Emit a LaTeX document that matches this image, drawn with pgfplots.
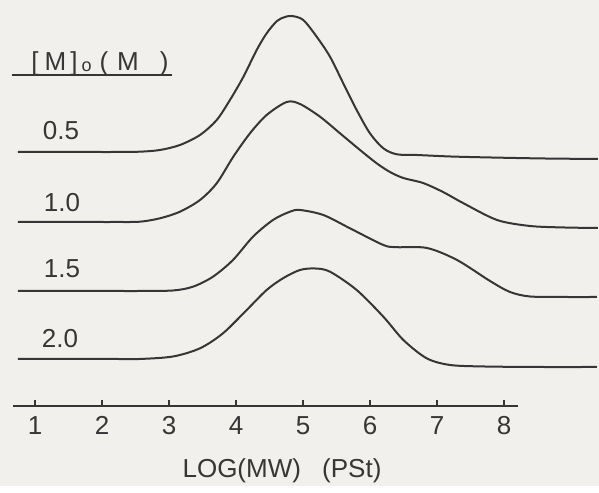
\documentclass[border=0pt]{standalone}
\usepackage{fontspec}
\setmainfont{Liberation Sans}
\usepackage{pgfplots}
\usepackage{pgfplotstable}
\pgfplotsset{compat=1.18}
\definecolor{paper}{HTML}{F1F0EC}
\definecolor{ink}{HTML}{363636}

% GPC traces, height in arbitrary units (baseline offset per curve)
\pgfplotstableread{
x     y
0.746 25.40
1.30  25.40
1.80  25.40
2.20  25.40
2.567 25.43
2.866 25.60
3.164 26.10
3.463 27.10
3.712 28.60
3.910 30.60
4.109 32.90
4.309 35.60
4.458 37.27
4.612 38.50
4.731 38.90
4.836 39.00
5.004 38.60
5.204 36.93
5.403 34.93
5.601 32.27
5.801 29.60
5.999 27.27
6.199 25.77
6.399 25.17
6.697 25.10
7.20  24.95
7.80  24.85
8.60  24.75
9.403 24.70
}\curveA
\pgfplotstableread{
x     y
0.746 18.40
1.30  18.40
1.80  18.40
2.20  18.40
2.567 18.43
2.866 18.77
3.164 19.43
3.463 20.60
3.712 22.27
3.960 24.93
4.209 27.27
4.458 29.10
4.757 30.40
4.955 30.20
5.254 28.93
5.552 27.27
5.851 25.60
6.100 24.27
6.298 23.40
6.497 22.80
6.791 22.30
7.090 21.40
7.388 20.30
7.896 18.60
8.388 18.00
8.90  17.85
9.403 17.80
}\curveB
\pgfplotstableread{
x     y
0.746 11.50
1.30  11.50
1.80  11.50
2.20  11.50
2.567 11.50
3.060 11.55
3.358 11.93
3.657 12.93
3.955 14.60
4.254 16.93
4.552 18.60
4.806 19.43
4.955 19.60
5.303 19.10
5.701 17.77
6.199 16.10
6.400 15.88
6.851 15.80
7.299 14.60
7.791 12.50
8.090 11.40
8.388 10.95
8.90  10.90
9.388 10.90
}\curveC
\pgfplotstableread{
x     y
0.746 4.70
1.30  4.70
1.80  4.70
2.20  4.70
2.567 4.70
3.060 4.95
3.463 5.77
3.806 7.27
4.160 9.60
4.458 11.60
4.701 12.77
4.955 13.60
5.180 13.75
5.403 13.43
5.801 11.60
6.199 8.93
6.498 6.60
6.846 4.77
7.194 4.10
7.70  3.95
8.50  3.90
9.388 3.90
}\curveD

\begin{document}
\fontsize{13bp}{15bp}\selectfont
\begin{tikzpicture}
\fill[paper] (-6.51bp,-40bp) rectangle (293.0bp,203bp);
\begin{axis}[
  x=33.5bp, y=5bp,
  xmin=0.672, xmax=8.209, ymin=0, ymax=40.6,
  axis x line=bottom, axis y line=none,
  x axis line style={-, line width=1bp, ink},
  xtick={1,...,8},
  tick align=inside, major tick length=3bp,
  tick style={ink, line width=0.8bp},
  xticklabel style={anchor=base, yshift=-14.5bp, inner sep=0pt, text=ink,
    font=\fontsize{13bp}{15bp}\selectfont},
  /pgf/number format/assume math mode=true,
  xlabel={LOG(MW)\hspace{7bp} (PSt)},
  xlabel style={at={(axis cs:4.687,-7.2)}, anchor=base, text=ink,
    font=\fontsize{13bp}{15bp}\selectfont},
  clip=false,
]
\addplot[ink, line width=1bp, smooth, no markers] table[x=x, y=y] {\curveA};
\addplot[ink, line width=1bp, smooth, no markers] table[x=x, y=y] {\curveB};
\addplot[ink, line width=1bp, smooth, no markers] table[x=x, y=y] {\curveC};
\addplot[ink, line width=1bp, smooth, no markers] table[x=x, y=y] {\curveD};

\draw[ink, line width=0.9bp] (axis cs:0.657,33.1) -- (axis cs:3.045,33.1);
\node[anchor=base, text=ink] at (axis cs:1.97,33.5)
  {[\kern3bp M\kern2bp]\kern2bp\raisebox{-0.5bp}{\fontsize{9bp}{9bp}\selectfont o}\kern4bp(\kern4.5bp M\kern10.5bp)};
\node[anchor=base, text=ink] at (axis cs:1.388,26.6) {0.5};
\node[anchor=base, text=ink] at (axis cs:1.403,19.4) {1.0};
\node[anchor=base, text=ink] at (axis cs:1.403,12.8) {1.5};
\node[anchor=base, text=ink] at (axis cs:1.373,5.8) {2.0};
\end{axis}
\end{tikzpicture}
\end{document}
